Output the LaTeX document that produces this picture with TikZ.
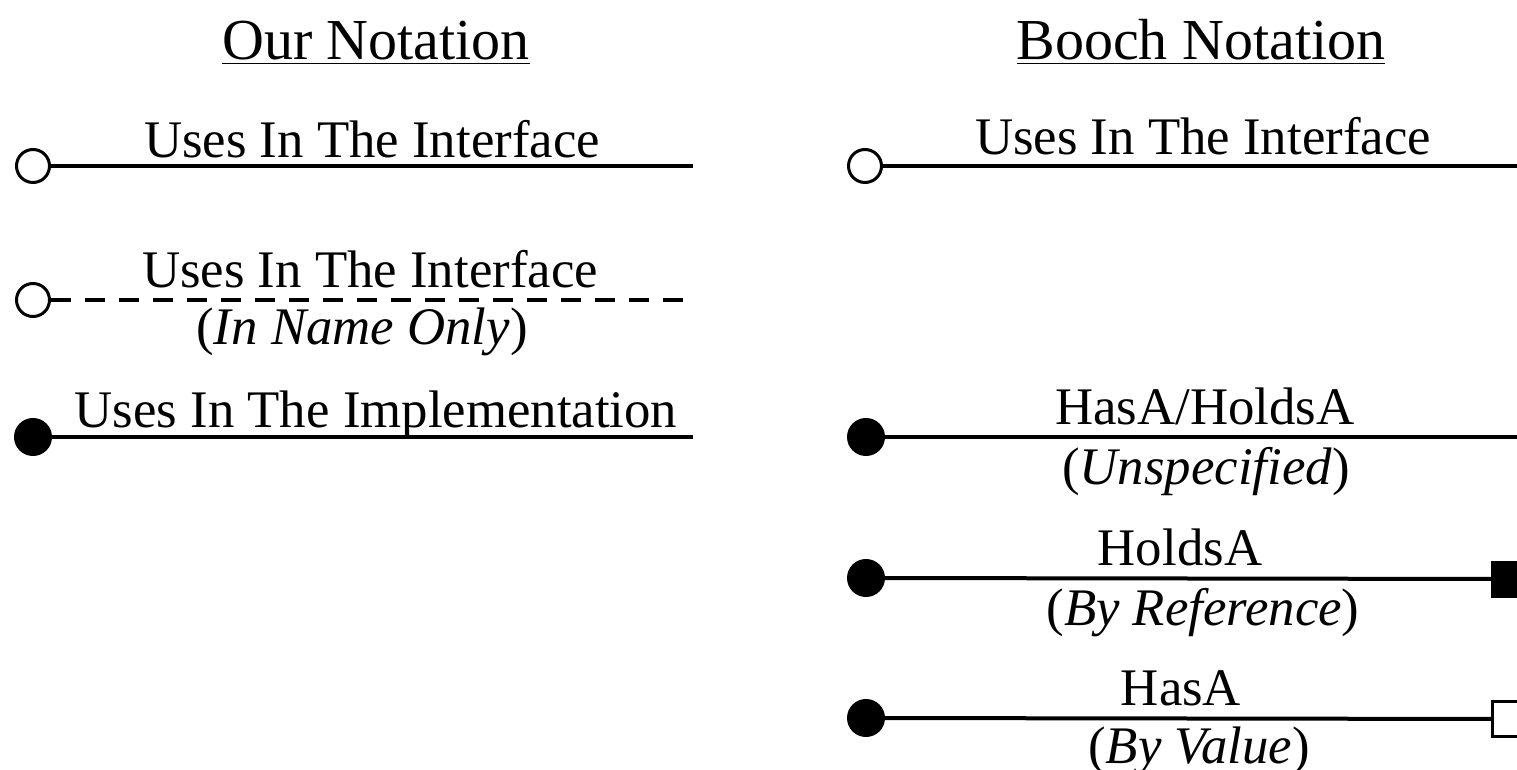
\documentclass[tikz,border=0pt]{standalone}
\usepackage{fontspec}
\setmainfont{Liberation Serif}
\begin{document}
\begin{tikzpicture}[x=0.5pt,y=-0.5pt,
  lbl/.style={anchor=base,inner sep=0pt,font=\fontsize{26.4}{30}\selectfont},
  head/.style={anchor=base,inner sep=0pt,font=\fontsize{29}{34}\selectfont},
  conn/.style={line width=2pt},
  dconn/.style={line width=2pt,dash pattern=on 10pt off 7pt},
  opencirc/.style={circle,draw,line width=1.5pt,fill=white,minimum size=16.5pt,inner sep=0pt},
  fullcirc/.style={circle,draw,line width=1pt,fill=black,minimum size=18pt,inner sep=0pt},
  fullsq/.style={rectangle,draw,line width=1pt,fill=black,minimum width=17.5pt,minimum height=17.5pt,inner sep=0pt,anchor=west},
  opensq/.style={rectangle,draw,line width=1.5pt,fill=white,minimum width=17.5pt,minimum height=17.5pt,inner sep=0pt,anchor=west}
]
\useasboundingbox (0,0) rectangle (1517,770);
% headings
\node[head] (h1) at (376,60) {\underline{Our Notation}};
\node[head] (h2) at (1201,60) {\underline{Booch Notation}};
% left column
\node[lbl] (t1) at (372,158) {Uses In The Interface};
\node[opencirc] (c1) at (33,166) {};
\coordinate (e1) at (693,166);
\draw[conn] (c1) -- (e1);

\node[lbl] (t2) at (370,288) {Uses In The Interface};
\node[lbl] (t2b) at (362,345) {(\textit{In Name Only})};
\node[opencirc] (c2) at (33,300) {};
\coordinate (e2) at (690,300);
\draw[dconn] (c2) -- (e2);

\node[lbl] (t3) at (376,428) {Uses In The Implementation};
\node[fullcirc] (c3) at (33,437) {};
\coordinate (e3) at (693,437);
\draw[conn] (c3) -- (e3);

% right column
\node[lbl] (r1) at (1203,155) {Uses In The Interface};
\node[opencirc] (d1) at (865,166) {};
\coordinate (f1) at (1530,166);
\draw[conn] (d1) -- (f1);

\node[lbl] (r2) at (1205,425) {HasA/HoldsA};
\node[lbl] (r2b) at (1206,485) {(\textit{Unspecified})};
\node[fullcirc] (d2) at (866,437) {};
\coordinate (f2) at (1530,437);
\draw[conn] (d2) -- (f2);

\node[lbl] (r3) at (1180,565) {HoldsA};
\node[lbl] (r3b) at (1203,625) {(\textit{By Reference})};
\node[fullcirc] (d3) at (866,578) {};
\node[fullsq] (s3) at (1491,579) {};
\draw[conn] (d3) -- (s3);

\node[lbl] (r4) at (1181,705) {HasA};
\node[lbl] (r4b) at (1199,763) {(\textit{By Value})};
\node[fullcirc] (d4) at (866,718) {};
\node[opensq] (s4) at (1491,719) {};
\draw[conn] (d4) -- (s4);
\end{tikzpicture}
\end{document}
